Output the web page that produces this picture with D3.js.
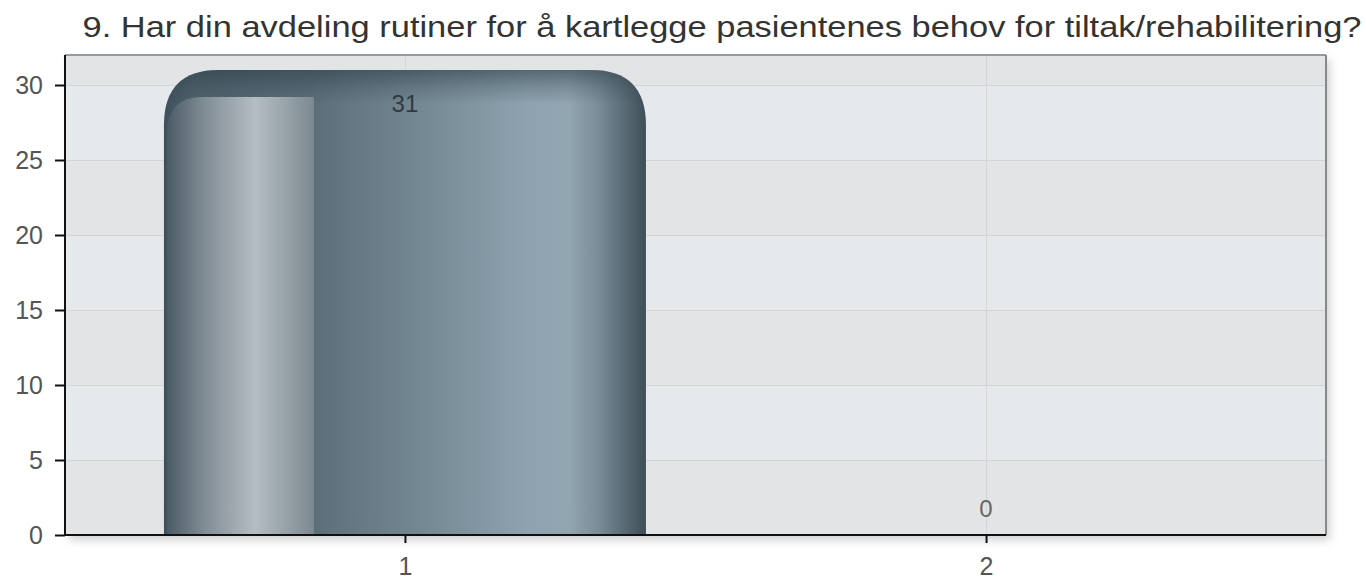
<!DOCTYPE html>
<html><head><meta charset="utf-8">
<script src="https://cdn.jsdelivr.net/npm/d3@7"></script>
<style>html,body{margin:0;padding:0;background:#fff;}svg{display:block;font-family:"Liberation Sans",Arial,sans-serif;}</style>
</head><body><svg id="c" width="1366" height="582"></svg>
<script>
const title = "9. Har din avdeling rutiner for å kartlegge pasientenes behov for tiltak/rehabilitering?";
const categories = ["1", "2"];
const values = [31, 0];
const yTicks = [0, 5, 10, 15, 20, 25, 30];
const yMax = 32;

const W = 1366, H = 582;
const m = {left: 65, right: 40, top: 55, bottom: 47};
const iw = W - m.left - m.right, ih = H - m.top - m.bottom;
const svg = d3.select("#c");
const defs = svg.append("defs");

const sh = defs.append("filter").attr("id","shadow").attr("x","-5%").attr("y","-5%").attr("width","110%").attr("height","115%");
sh.append("feDropShadow").attr("dx",4).attr("dy",5).attr("stdDeviation",4).attr("flood-color","#000").attr("flood-opacity",0.18);

function grad(id, stops, vertical){
  const g = defs.append("linearGradient").attr("id",id).attr("x1",0).attr("y1",0)
    .attr("x2",vertical?0:1).attr("y2",vertical?1:0);
  stops.forEach(s=>g.append("stop").attr("offset",s[0]).attr("stop-color",s[1]).attr("stop-opacity",s[2]==null?1:s[2]));
}
grad("barG", [[0,"#3e505b"],[0.06,"#4f616b"],[0.31,"#5c6e79"],[0.5,"#70848f"],[0.75,"#8ea3af"],[0.84,"#92a6b2"],[0.9,"#7a8d98"],[1,"#3e4e58"]]);
grad("innerG", [[0,"#4b5b65"],[0.25,"#7f8c94"],[0.6,"#b6bdc4"],[0.75,"#a0aab1"],[1,"#7b8990"]]);
grad("topG", [[0,"#2f404a",0.6],[0.5,"#2f404a",0.25],[1,"#2f404a",0]], true);

const g = svg.append("g").attr("transform",`translate(${m.left},${m.top})`);
const y = d3.scaleLinear().domain([0,yMax]).range([ih,0]);
const x = d3.scalePoint().domain(categories).range([0,iw]).padding(0.585);
const barW = 482;

g.append("rect").attr("width",iw).attr("height",ih).attr("fill","#e3e4e6").attr("filter","url(#shadow)");
for (let i=0;i<yTicks.length;i++){
  const lo = yTicks[i], hi = i+1<yTicks.length ? yTicks[i+1] : yMax;
  g.append("rect").attr("x",0).attr("width",iw).attr("y",y(hi)).attr("height",y(lo)-y(hi))
    .attr("fill", i%2===0 ? "#e3e4e6" : "#e6e9ec");
}
g.selectAll(".hg").data(yTicks.slice(1)).join("line").attr("x1",0).attr("x2",iw)
  .attr("y1",d=>y(d)+0.5).attr("y2",d=>y(d)+0.5).attr("stroke","#d2d4d6");
g.selectAll(".vg").data(categories).join("line").attr("x1",d=>x(d)+0.5).attr("x2",d=>x(d)+0.5)
  .attr("y1",0).attr("y2",ih).attr("stroke","#d4d6d8");

g.append("line").attr("x1",0).attr("x2",iw).attr("y1",0).attr("y2",0).attr("stroke","#999").attr("stroke-width",2);
g.append("line").attr("x1",iw).attr("x2",iw).attr("y1",0).attr("y2",ih).attr("stroke","#888").attr("stroke-width",2);

function topRounded(x0,y0,w,h,r,rRight){
  const rr = rRight==null? r : rRight;
  return `M${x0},${y0+h} L${x0},${y0+r} Q${x0},${y0} ${x0+r},${y0} L${x0+w-rr},${y0} Q${x0+w},${y0} ${x0+w},${y0+rr} L${x0+w},${y0+h} Z`;
}
const barData = values.map((v,i)=>({c:categories[i],v,i})).filter(d=>d.v>0);
const bars = g.selectAll(".bar").data(barData).join("g").attr("class","bar");
bars.each(function(d){
  const s = d3.select(this);
  const x0 = x(d.c)-barW/2, y0 = y(d.v), h = y(0)-y(d.v);
  const r = Math.min(55, h);
  const p = topRounded(x0,y0,barW,h,r);
  defs.append("clipPath").attr("id","bc"+d.i).append("path").attr("d",p);
  s.append("path").attr("d",p).attr("fill","url(#barG)");
  s.append("rect").attr("x",x0).attr("y",y0).attr("width",barW).attr("height",Math.min(34,h))
    .attr("fill","url(#topG)").attr("clip-path",`url(#bc${d.i})`);
  const ix = x0+3, iy = y0+27, iwid = 147;
  if (h>40) s.append("path").attr("d",topRounded(ix,iy,iwid,y(0)-iy,36,0)).attr("fill","url(#innerG)");
});

g.selectAll(".vl").data(values).join("text")
  .attr("x",(d,i)=>x(categories[i])).attr("y",d=>d>0 ? y(d)+42 : y(d)-18)
  .attr("text-anchor","middle").attr("font-size",24).attr("fill",d=>d>0?"#2f3a42":"#666").text(d=>d);

const ya = g.append("g").call(d3.axisLeft(y).tickValues(yTicks).tickSize(10).tickPadding(12));
ya.select(".domain").attr("stroke","#111").attr("stroke-width",2).attr("d",`M0,0V${ih}`);
ya.selectAll(".tick line").attr("stroke","#111").attr("stroke-width",2);
ya.selectAll(".tick text").attr("font-size",25).attr("fill","#555").attr("font-family","Liberation Sans, Arial, sans-serif");
const xa = g.append("g").attr("transform",`translate(0,${ih})`).call(d3.axisBottom(x).tickSize(8).tickPadding(14));
xa.select(".domain").attr("stroke","#111").attr("stroke-width",2).attr("d",`M0,0H${iw}`);
xa.selectAll(".tick line").attr("stroke","#111").attr("stroke-width",2);
xa.selectAll(".tick text").attr("font-size",25).attr("fill","#555").attr("font-family","Liberation Sans, Arial, sans-serif");

svg.append("text").attr("x",722).attr("y",37).attr("text-anchor","middle").attr("font-size",29)
  .attr("textLength",1279).attr("lengthAdjust","spacingAndGlyphs")
  .attr("fill","#333").text(title);
</script></body></html>
